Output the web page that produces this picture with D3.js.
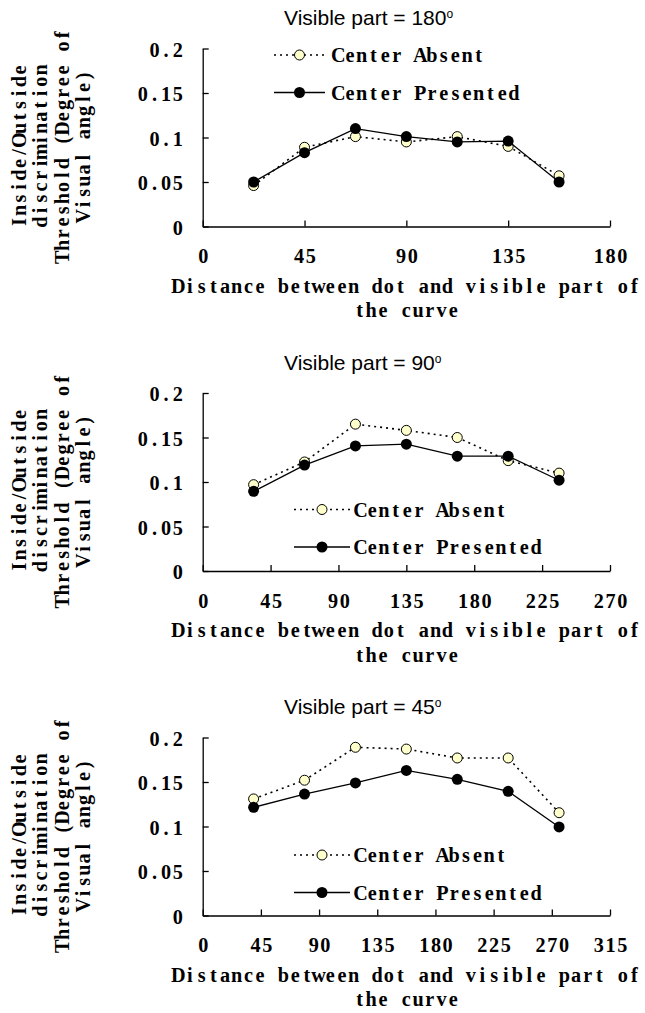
<!DOCTYPE html>
<html>
<head>
<meta charset="utf-8">
<script src="https://cdn.jsdelivr.net/npm/d3@7/dist/d3.min.js"></script>
<style>
  body { margin: 0; background: #fff; }
  svg { display: block; }
</style>
</head>
<body>
<svg id="chart" width="645" height="1013"></svg>
<script>
// Data
const seriesNames = ["Center Absent", "Center Presented"];
const visibleParts = ["180", "90", "45"];
const xMaxes = [180, 270, 315];
const yTicks = [0, 0.05, 0.1, 0.15, 0.2];
const yTickLabels = ["0", "0.05", "0.1", "0.15", "0.2"];

const x180 = [22.5, 45, 67.5, 90, 112.5, 135, 157.5];
const absent180 = [0.046, 0.089, 0.101, 0.095, 0.101, 0.090, 0.057];
const presented180 = [0.050, 0.083, 0.110, 0.101, 0.095, 0.096, 0.050];

const x90 = [33.75, 67.5, 101.25, 135, 168.75, 202.5, 236.25];
const absent90 = [0.097, 0.1225, 0.165, 0.158, 0.150, 0.124, 0.110];
const presented90 = [0.0895, 0.119, 0.1405, 0.1425, 0.129, 0.129, 0.102];

const x45 = [39.375, 78.75, 118.125, 157.5, 196.875, 236.25, 275.625];
const absent45 = [0.131, 0.152, 0.189, 0.187, 0.177, 0.177, 0.1155];
const presented45 = [0.1215, 0.1365, 0.149, 0.163, 0.153, 0.1395, 0.0995];

const xValues = [x180, x90, x45];
const absentValues = [absent180, absent90, absent45];
const presentedValues = [presented180, presented90, presented45];

const yLabelLines = ["Inside/Outside", "discrimination", "Threshold (Degree of", "Visual angle)"];
const xLabelLines = ["Distance between dot and visible part of", "the curve"];

// Layout
const serifFont = "'Liberation Serif', 'DejaVu Serif', serif";
const charAdvance = 11.7;   // fixed cell width, the original uses a monospaced CJK font
const squeeze = 0.92;       // narrow, tall glyphs like the original
const panelStep = 344.5;
const plotLeft = 202.7, plotRight = 610;
const plotTop = 48.5, plotBottom = 226.5;
const legendPos = [
    { x0: 274, x1: 325, tx: 332.5, y: 6.5 },
    { x0: 294, x1: 350, tx: 354.7, y: 116.5 },
    { x0: 294, x1: 350, tx: 354.7, y: 117.5 }
];
const legendRowGap = 37.5;

// Serif glyphs set in fixed cells so they read like the monospaced original
function cellXs(str, x, anchor) {
    const w = str.length * charAdvance;
    const start = anchor === "middle" ? x - w / 2 : anchor === "end" ? x - w : x;
    return d3.range(str.length)
        .map(i => ((start + charAdvance * (i + 0.5)) / squeeze).toFixed(2))
        .join(" ");
}

function monoStyle(sel) {
    return sel
        .attr("text-anchor", "middle")
        .attr("transform", `scale(${squeeze},1)`)
        .style("font-family", serifFont)
        .style("font-weight", "bold")
        .style("font-size", "22px")
        .attr("fill", "#000");
}

function monoText(parent, str, x, y, anchor) {
    return parent.append("text")
        .attr("x", cellXs(str, x, anchor))
        .attr("y", y)
        .call(monoStyle)
        .text(str);
}

const svg = d3.select("#chart");

visibleParts.forEach((vp, p) => {
    const g = svg.append("g")
        .attr("transform", `translate(0, ${p * panelStep})`);

    const xScale = d3.scaleLinear()
        .domain([0, xMaxes[p]])
        .range([plotLeft, plotRight]);
    const yScale = d3.scaleLinear()
        .domain([0, 0.2])
        .range([plotBottom, plotTop]);

    // Title
    const title = g.append("text")
        .attr("x", 284)
        .attr("y", plotTop - 23.5)
        .style("font-family", "'Liberation Sans', Arial, sans-serif")
        .style("font-size", "21px")
        .text(`Visible part = ${vp}`);
    title.append("tspan")
        .attr("dy", -7)
        .style("font-size", "12px")
        .text("o");

    // Y axis
    const yAxis = d3.axisLeft(yScale)
        .tickValues(yTicks)
        .tickFormat((d, i) => yTickLabels[i])
        .tickSizeInner(-6)
        .tickSizeOuter(0);
    const yG = g.append("g")
        .attr("transform", `translate(${plotLeft},0)`)
        .call(yAxis);

    // X axis
    const xTickVals = d3.range(0, xMaxes[p] + 1, 45);
    const xAxis = d3.axisBottom(xScale)
        .tickValues(xTickVals)
        .tickFormat(d3.format("d"))
        .tickSizeInner(-6)
        .tickSizeOuter(0);
    const xG = g.append("g")
        .attr("transform", `translate(0,${plotBottom})`)
        .call(xAxis);

    [yG, xG].forEach(ax => {
        ax.select(".domain").attr("stroke", "#000").attr("stroke-width", 1.3);
        ax.selectAll(".tick line").attr("stroke", "#000").attr("stroke-width", 1.3);
    });
    yG.selectAll(".tick text").each(function () {
        const t = d3.select(this);
        t.attr("x", cellXs(t.text(), -19, "end")).attr("dy", null).attr("y", 7.5).call(monoStyle);
    });
    xG.selectAll(".tick text").each(function () {
        const t = d3.select(this);
        t.attr("x", cellXs(t.text(), 0, "middle")).attr("dy", null).attr("y", 37).call(monoStyle);
    });

    // Y axis label (rotated, four lines)
    const yLabel = g.append("g")
        .attr("transform", `translate(0, ${plotTop + 97.5}) rotate(-90)`);
    yLabelLines.forEach((line, i) => {
        monoText(yLabel, line, 0, 26 + i * 21.5, "middle");
    });

    // X axis label (two lines)
    const xCenter = (plotLeft + plotRight) / 2;
    xLabelLines.forEach((line, i) => {
        monoText(g, line, xCenter, plotBottom + 66.5 + i * 24.5, "middle");
    });

    // Series
    const line = d3.line()
        .x(d => xScale(d.x))
        .y(d => yScale(d.y));

    const absentData = xValues[p].map((x, i) => ({ x: x, y: absentValues[p][i] }));
    const presentedData = xValues[p].map((x, i) => ({ x: x, y: presentedValues[p][i] }));

    g.append("path")
        .datum(absentData)
        .attr("d", line)
        .attr("fill", "none")
        .attr("stroke", "#000")
        .attr("stroke-width", 1.6)
        .attr("stroke-dasharray", "2,4");
    g.selectAll(".absent-dot")
        .data(absentData)
        .enter()
        .append("circle")
        .attr("class", "absent-dot")
        .attr("cx", d => xScale(d.x))
        .attr("cy", d => yScale(d.y))
        .attr("r", 5)
        .attr("fill", "#ffffcc")
        .attr("stroke", "#000")
        .attr("stroke-width", 1);

    g.append("path")
        .datum(presentedData)
        .attr("d", line)
        .attr("fill", "none")
        .attr("stroke", "#000")
        .attr("stroke-width", 1.3);
    g.selectAll(".presented-dot")
        .data(presentedData)
        .enter()
        .append("circle")
        .attr("class", "presented-dot")
        .attr("cx", d => xScale(d.x))
        .attr("cy", d => yScale(d.y))
        .attr("r", 5.5)
        .attr("fill", "#000");

    // Legend
    const lp = legendPos[p];
    seriesNames.forEach((name, i) => {
        const ly = plotTop + lp.y + i * legendRowGap;
        const item = g.append("g").attr("class", "legend-item");
        item.append("line")
            .attr("x1", lp.x0).attr("x2", lp.x1)
            .attr("y1", ly).attr("y2", ly)
            .attr("stroke", "#000")
            .attr("stroke-width", i === 0 ? 1.6 : 1.3)
            .attr("stroke-dasharray", i === 0 ? "2,4" : null);
        item.append("circle")
            .attr("cx", (lp.x0 + lp.x1) / 2)
            .attr("cy", ly)
            .attr("r", i === 0 ? 5 : 5.5)
            .attr("fill", i === 0 ? "#ffffcc" : "#000")
            .attr("stroke", "#000")
            .attr("stroke-width", i === 0 ? 1 : 0);
        monoText(item, name, lp.tx, ly + 7.5, "start");
    });
});
</script>
</body>
</html>
